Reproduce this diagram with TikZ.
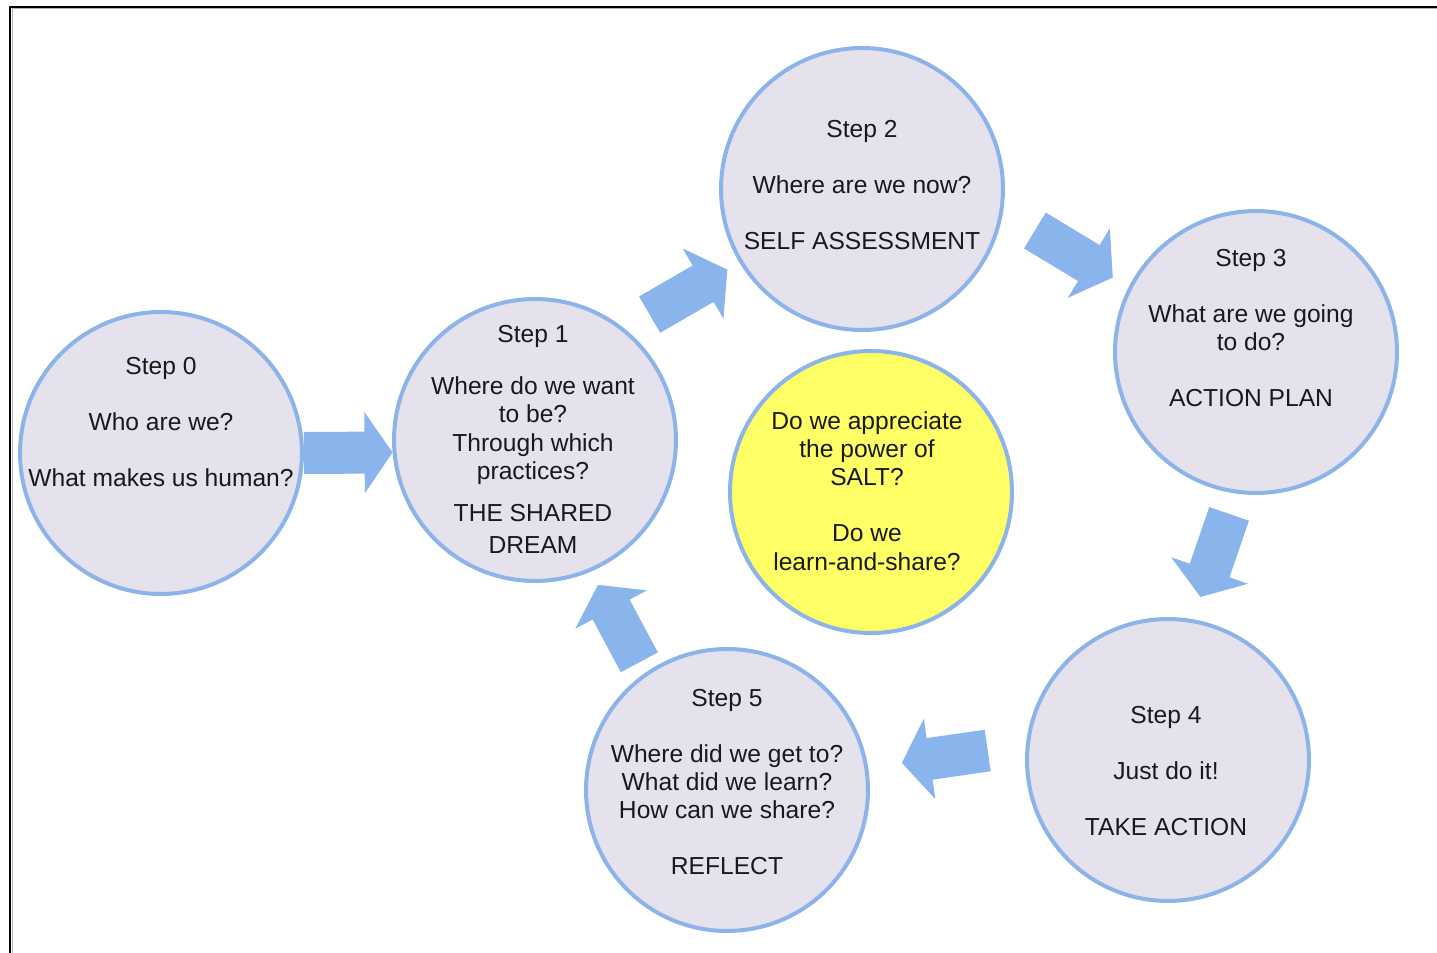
\documentclass[tikz,border=0pt]{standalone}
\usepackage{fontspec}
\setmainfont{Liberation Sans}
\usetikzlibrary{arrows.meta}
\definecolor{ringblue}{RGB}{140,180,232}
\definecolor{arrowblue}{RGB}{138,180,236}
\definecolor{lavender}{RGB}{229,225,237}
\definecolor{saltyellow}{RGB}{255,255,102}
\begin{document}
\begin{tikzpicture}[x=0.02cm, y=-0.02cm, font=\fontsize{14}{16}\selectfont, line join=round,
	stepcircle/.style={circle, draw=ringblue, line width=0.08cm, fill=lavender, minimum size=5.64cm, inner sep=0pt},
	steptext/.style={align=center, inner sep=0pt, text=black!90},
	bigarrow/.style={arrowblue, line width=0.84cm, line cap=butt, -{Triangle[width=1.62cm, length=0.56cm, line width=1pt]}}]
	\useasboundingbox (0,0) rectangle (1437,953);
	\draw[line width=0.04cm] (10,953) -- (10,7) -- (1437,7);
	\draw[black!30, line width=0.02cm] (12,953) -- (12,9) -- (1437,9);
	% circles
	\node[stepcircle] (s0) at (161,453) {};
	\node[stepcircle] (s1) at (535,440) {};
	\node[stepcircle] (s2) at (862,189) {};
	\node[stepcircle] (s3) at (1256,352) {};
	\node[stepcircle] (s4) at (1168,760) {};
	\node[stepcircle] (s5) at (727,790) {};
	\node[stepcircle, fill=saltyellow] (c) at (871,492) {};
	% texts
	\node[steptext] (t0) at (161,422) {Step 0\\[16pt]Who are we?\\[16pt]What makes us human?};
	\node[steptext] (t1) at (533,439) {Step 1\\[14pt]Where do we want\\to be?\\Through which\\practices?\\[8pt]THE SHARED\\[2pt]DREAM};
	\node[steptext] (t2) at (862,185) {Step 2\\[16pt]Where are we now?\\[16pt]SELF ASSESSMENT};
	\node[steptext] (t3) at (1251,328) {Step 3\\[16pt]What are we going\\to do?\\[16pt]ACTION PLAN};
	\node[steptext] (t4) at (1166,771) {Step 4\\[16pt]Just do it!\\[16pt]TAKE ACTION};
	\node[steptext] (t5) at (727,782) {Step 5\\[16pt]Where did we get to?\\What did we learn?\\How can we share?\\[16pt]REFLECT};
	\node[steptext] (tc) at (867,491) {Do we appreciate\\the power of\\SALT?\\[16pt]Do we\\learn-and-share?};
	% arrows
	\draw[bigarrow] (s0.0) -- (s1.185);
	\draw[bigarrow, shorten <=0.57cm, shorten >=0.28cm] (s1.51) -- (s2.211);
	\draw[bigarrow, shorten <=0.74cm, shorten >=0.37cm] (s2.-9) -- (s3.153);
	\draw[bigarrow, shorten <=0.43cm, shorten >=0.47cm] (s3.262) -- (s4.80);
	\draw[bigarrow, shorten <=0.77cm, shorten >=0.68cm] (s4.174) -- (s5.9);
	\draw[bigarrow, shorten <=0.24cm, shorten >=0.30cm] (s5.125) -- (s1.293);
\end{tikzpicture}
\end{document}
